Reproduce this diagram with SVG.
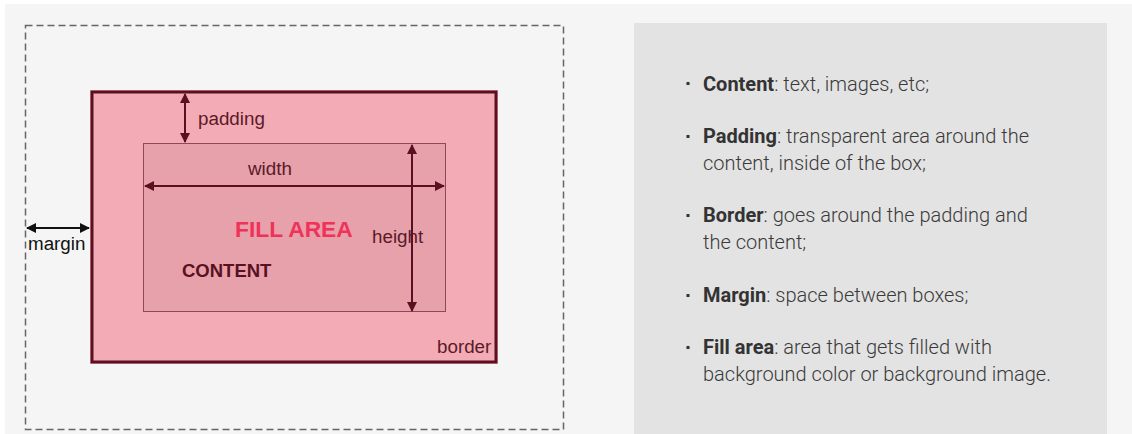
<svg xmlns="http://www.w3.org/2000/svg" width="1132" height="434" viewBox="0 0 1132 434">
  <style>
    .lbl { font-family: "Liberation Sans", Arial, sans-serif; font-size: 18.8px; fill: #5a1a28; }
    .dim { stroke: #5a1020; stroke-width: 2; fill: none; }
    .item { font-family: Roboto, "Liberation Sans", sans-serif; font-size: 20px; font-weight: 300; fill: #3a3a3a; }
    .item tspan.k { font-weight: bold; fill: #333; }
  </style>
  <defs>
    <marker id="ah" viewBox="0 0 10 10" refX="9" refY="5" markerWidth="5.5" markerHeight="5" orient="auto-start-reverse" markerUnits="strokeWidth">
      <path d="M0,0 L10,5 L0,10 z" fill="#5a1020"/>
    </marker>
    <marker id="ahk" viewBox="0 0 10 10" refX="9" refY="5" markerWidth="5.5" markerHeight="5" orient="auto-start-reverse" markerUnits="strokeWidth">
      <path d="M0,0 L10,5 L0,10 z" fill="#111"/>
    </marker>
  </defs>

  <!-- page background -->
  <rect x="0" y="0" width="1132" height="434" fill="#ffffff"/>
  <rect x="5" y="4" width="1127" height="430" fill="#f5f5f5"/>

  <!-- box model drawing -->
  <g id="margin-box">
    <rect x="25.5" y="25.5" width="538" height="404" fill="none" stroke="#666" stroke-width="1.5" stroke-dasharray="7 4"/>
  </g>
  <g id="border-box">
    <rect x="90" y="90" width="408" height="274" fill="#f3acb6"/>
    <rect x="92" y="92" width="404" height="270" fill="none" stroke="#5a1020" stroke-width="3"/>
    <text class="lbl" x="437" y="353">border</text>
  </g>
  <g id="content-box">
    <rect x="143.5" y="143.5" width="302" height="168" fill="#e6a1aa" stroke="#8c4a58" stroke-width="1"/>
    <text x="235" y="237" font-family="'Liberation Sans', Arial, sans-serif" font-size="22.8" font-weight="bold" fill="#f0325a">FILL AREA</text>
    <text x="182" y="277" font-family="'Liberation Sans', Arial, sans-serif" font-size="18.5" font-weight="bold" fill="#5a1020">CONTENT</text>
  </g>

  <!-- dimension arrows -->
  <g id="connectors">
    <line class="dim" x1="185" y1="94" x2="185" y2="142" marker-start="url(#ah)" marker-end="url(#ah)"/>
    <line class="dim" x1="145" y1="186" x2="444" y2="186" marker-start="url(#ah)" marker-end="url(#ah)"/>
    <line class="dim" x1="412" y1="145" x2="412" y2="311" marker-start="url(#ah)" marker-end="url(#ah)"/>
    <line x1="27" y1="228" x2="89" y2="228" stroke="#111" stroke-width="2" marker-start="url(#ahk)" marker-end="url(#ahk)"/>
  </g>
  <g id="dimension-labels">
    <text class="lbl" x="198" y="125">padding</text>
    <text class="lbl" x="248" y="175">width</text>
    <text class="lbl" x="372" y="243">height</text>
    <text class="lbl" x="28" y="250" style="fill:#111">margin</text>
  </g>

  <!-- definitions panel -->
  <g id="definitions">
    <rect x="634" y="23" width="473" height="411" fill="#e3e3e3"/>
    <g fill="#333">
      <rect x="686.5" y="82" width="3" height="3"/>
      <rect x="686.5" y="135" width="3" height="3"/>
      <rect x="686.5" y="214" width="3" height="3"/>
      <rect x="686.5" y="294" width="3" height="3"/>
      <rect x="686.5" y="346" width="3" height="3"/>
    </g>
    <text class="item" x="703" y="91"><tspan class="k">Content</tspan>: text, images, etc;</text>
    <text class="item" x="703" y="143"><tspan class="k">Padding</tspan>: transparent area around the</text>
    <text class="item" x="703" y="170">content, inside of the box;</text>
    <text class="item" x="703" y="222"><tspan class="k">Border</tspan>: goes around the padding and</text>
    <text class="item" x="703" y="249">the content;</text>
    <text class="item" x="703" y="302"><tspan class="k">Margin</tspan>: space between boxes;</text>
    <text class="item" x="703" y="354"><tspan class="k">Fill area</tspan>: area that gets filled with</text>
    <text class="item" x="703" y="381">background color or background image.</text>
  </g>
</svg>
